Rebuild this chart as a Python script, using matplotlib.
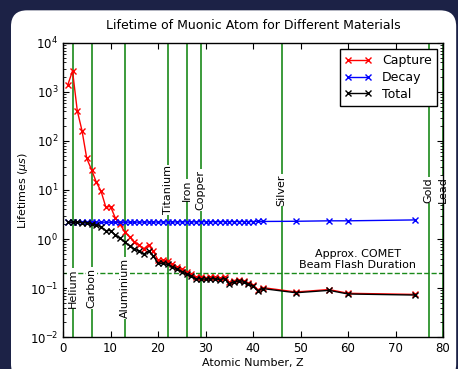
import numpy as np
import matplotlib
matplotlib.use("Agg")
import matplotlib.pyplot as plt
from matplotlib.patches import FancyBboxPatch

# atomic numbers of the measured elements
z = [1, 2, 3, 4, 5, 6, 7, 8, 9, 10, 11, 12, 13, 14, 15, 16, 17, 18, 19, 20, 21,
     22, 23, 24, 25, 26, 27, 28, 29, 30, 31, 32, 33, 34, 35, 36, 37, 38, 39, 40,
     41, 42, 49, 56, 60, 74]

# lifetimes in microseconds
capture = [1390, 2700, 414, 162, 44, 26, 14.5, 9.5, 4.5, 4.6, 2.7, 2.0, 1.4,
           1.1, 0.88, 0.76, 0.63, 0.76, 0.57, 0.37, 0.37, 0.35, 0.31, 0.27,
           0.24, 0.21, 0.19, 0.165, 0.168, 0.162, 0.168, 0.166, 0.16, 0.168,
           0.13, 0.142, 0.145, 0.14, 0.125, 0.115, 0.092, 0.102, 0.083, 0.093,
           0.078, 0.074]
decay = [2.2, 2.2, 2.2, 2.2, 2.2, 2.2, 2.2, 2.2, 2.2, 2.2, 2.2, 2.2, 2.21,
         2.21, 2.21, 2.21, 2.22, 2.22, 2.22, 2.22, 2.23, 2.23, 2.23, 2.23,
         2.24, 2.24, 2.24, 2.24, 2.25, 2.25, 2.25, 2.25, 2.26, 2.26, 2.26,
         2.26, 2.27, 2.27, 2.27, 2.27, 2.28, 2.28, 2.3, 2.35, 2.35, 2.45]
total = [2.2, 2.2, 2.19, 2.17, 2.10, 2.03, 1.91, 1.79, 1.48, 1.49, 1.21, 1.05,
         0.856, 0.733, 0.629, 0.565, 0.49, 0.565, 0.453, 0.317, 0.317, 0.302,
         0.272, 0.240, 0.216, 0.192, 0.175, 0.153, 0.156, 0.151, 0.156, 0.154,
         0.149, 0.156, 0.123, 0.133, 0.136, 0.132, 0.118, 0.109, 0.088, 0.0975,
         0.080, 0.0895, 0.0755, 0.0718]

# element marker lines
materials = ["Helium", "Carbon", "Aluminium", "Titanium", "Iron", "Copper",
             "Silver", "Gold", "Lead"]
material_z = [2, 6, 13, 22, 26, 29, 46, 77, 80]
label_y = [0.1, 0.1, 0.1, 10, 10, 10, 10, 10, 10]

flash = 0.2

fig = plt.figure(figsize=(4.58, 3.69), dpi=100, facecolor='#1c2246')
bg = FancyBboxPatch((0.024, -0.03), 0.972, 1.002,
                    boxstyle='round,pad=0,rounding_size=0.035',
                    mutation_aspect=458 / 369.,
                    transform=fig.transFigure, facecolor='white',
                    edgecolor='none', zorder=-1)
fig.patches.append(bg)

ax = fig.add_axes([0.1376, 0.0867, 0.8297, 0.7968])
ax.set_facecolor('white')

for name, zz, yy in zip(materials, material_z, label_y):
    ax.axvline(zz, color='#1a8a1a', lw=1.2, zorder=1)
    ax.text(zz, yy, name, rotation=90, ha='center', va='center', fontsize=8,
            bbox=dict(facecolor='white', edgecolor='none', pad=0.5), zorder=2)

ax.axhline(flash, color='#1a8a1a', lw=1.0, ls='--', zorder=1)
ax.text(62, 0.235, "Approx. COMET\nBeam Flash Duration", ha='center',
        va='bottom', fontsize=8, linespacing=1.1)

ax.plot(z, capture, 'r-x', ms=4.5, mew=1.0, lw=1.0, label='Capture', zorder=3)
ax.plot(z, decay, 'b-x', ms=4.5, mew=1.0, lw=1.0, label='Decay', zorder=3)
ax.plot(z, total, 'k-x', ms=4.5, mew=1.0, lw=1.0, label='Total', zorder=4)

ax.set_yscale('log')
ax.set_xlim(0, 80)
ax.set_ylim(1e-2, 1e4)
ax.set_xticks(np.arange(0, 81, 10))
ax.tick_params(which='both', direction='in', top=True, right=True, labelsize=8.5)
ax.tick_params(which='major', length=4)
ax.tick_params(which='minor', length=2)
for sp in ax.spines.values():
    sp.set_linewidth(1.0)

ax.set_xlabel('Atomic Number, Z', fontsize=8, labelpad=2)
ax.set_ylabel(r'Lifetimes ($\mu s$)', fontsize=8, labelpad=0)
ax.set_title('Lifetime of Muonic Atom for Different Materials', fontsize=9, pad=10)

leg = ax.legend(loc='upper right', fontsize=9, numpoints=2, fancybox=False,
                framealpha=1, edgecolor='black', handlelength=2.2,
                borderaxespad=0.5, labelspacing=0.3)
leg.get_frame().set_linewidth(1.0)

fig.savefig('out.png', dpi=100, facecolor=fig.get_facecolor())
